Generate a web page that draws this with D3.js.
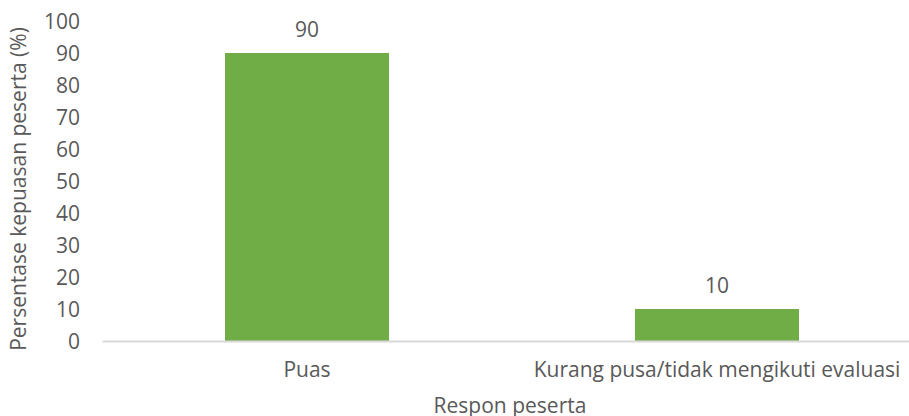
<!DOCTYPE html>
<html>
<head>
<meta charset="utf-8">
<script src="https://cdn.jsdelivr.net/npm/d3@7"></script>
<style>
  body { margin: 0; background: #fff; }
  text { font-family: "Open Sans", sans-serif; fill: #595959; }
</style>
</head>
<body>
<svg id="chart"></svg>
<script>
/*
Chart data
 */
var categories = ["Puas", "Kurang pusa/tidak mengikuti evaluasi"];
var values = [90, 10];
var yTicks = [0, 10, 20, 30, 40, 50, 60, 70, 80, 90, 100];

/*
Static constants
 */
const width = 909;
const height = 416;
const barColor = "#70ad47";
const fontSize = 21;

var svg = d3.select("#chart")
    .attr("width", width)
    .attr("height", height);

var x = d3.scaleBand()
    .domain(categories)
    .range([102, 922])
    .paddingInner(0.6)
    .paddingOuter(0.3);

var y = d3.scaleLinear()
    .domain([0, 100])
    .range([341, 21]);

//y tick labels, no axis line
var yAxis = svg.append("g")
    .attr("transform", "translate(80,0)")
    .call(d3.axisLeft(y).tickValues(yTicks).tickSize(0).tickPadding(0));
yAxis.select(".domain").remove();
yAxis.selectAll("text")
    .attr("font-size", fontSize)
    .style("font-family", null)
    .attr("dy", "0.36em");

//bars
svg.selectAll(".bar")
    .data(values)
    .enter().append("rect")
    .attr("class", "bar")
    .attr("x", function(d, i) { return x(categories[i]); })
    .attr("width", x.bandwidth())
    .attr("y", function(d) { return y(d); })
    .attr("height", function(d) { return y(0) - y(d); })
    .attr("fill", barColor);

//bottom axis line + category labels
var xAxis = svg.append("g")
    .attr("transform", "translate(0," + y(0) + ")")
    .call(d3.axisBottom(x).tickSize(0).tickPadding(21));
xAxis.select(".domain").attr("stroke", "#d9d9d9").attr("stroke-width", 2);
xAxis.selectAll("text")
    .attr("font-size", fontSize)
    .style("font-family", null);

//value labels
svg.selectAll(".val")
    .data(values)
    .enter().append("text")
    .attr("class", "val")
    .attr("x", function(d, i) { return x(categories[i]) + x.bandwidth() / 2; })
    .attr("y", function(d) { return y(d) - 16; })
    .attr("text-anchor", "middle")
    .attr("font-size", fontSize)
    .text(function(d) { return d; });

//axis titles
svg.append("text")
    .attr("x", 510)
    .attr("y", 413)
    .attr("text-anchor", "middle")
    .attr("font-size", fontSize)
    .text("Respon peserta");

svg.append("text")
    .attr("transform", "translate(26,189) rotate(-90)")
    .attr("text-anchor", "middle")
    .attr("font-size", fontSize)
    .text("Persentase kepuasan peserta (%)");
</script>
</body>
</html>
